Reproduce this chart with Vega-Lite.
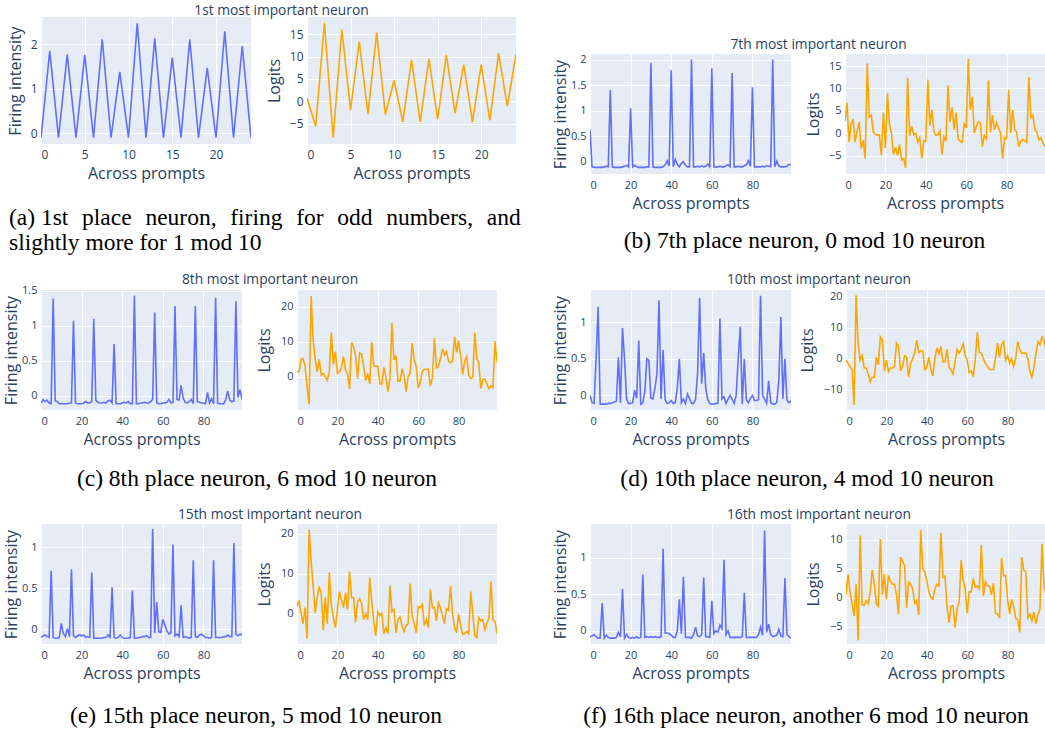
{
"$schema": "https://vega.github.io/schema/vega-lite/v6.json",
"background": "white",
"padding": {"left": 3, "top": 4, "right": 0, "bottom": 0},
"config": {
  "view": {"fill": "#E5ECF6", "stroke": null},
  "numberFormat": "~f",
  "axis": {"domain": false, "ticks": false, "tickSize": 0, "gridColor": "#ffffff", "gridWidth": 1, "gridOpacity": 1,
    "labelFont": "Open Sans", "labelFontSize": 11, "labelColor": "#2a3f5f", "labelPadding": 4,
    "titleFont": "Open Sans", "titleFontSize": 16, "titleFontWeight": "normal", "titleColor": "#2a3f5f"},
  "axisX": {"minExtent": 17, "maxExtent": 17, "titlePadding": 4, "labelPadding": 5},
  "axisY": {"minExtent": 22, "maxExtent": 22, "titlePadding": 0},
  "title": {"font": "Open Sans", "fontSize": 13.8, "fontWeight": "normal", "color": "#2a3f5f", "anchor": "middle"}
},
"datasets": {
"A": [{"x":0,"f":-0.1,"l":0.7},{"x":1,"f":1.85,"l":-5.6},{"x":2,"f":-0.1,"l":17.6},{"x":3,"f":1.77,"l":-8.2},{"x":4,"f":-0.1,"l":16.1},{"x":5,"f":1.76,"l":-2.0},{"x":6,"f":-0.1,"l":13.4},{"x":7,"f":2.11,"l":-2.9},{"x":8,"f":-0.1,"l":15.4},{"x":9,"f":1.38,"l":-3.0},{"x":10,"f":-0.1,"l":4.7},{"x":11,"f":2.47,"l":-4.7},{"x":12,"f":-0.1,"l":9.3},{"x":13,"f":2.13,"l":-4.7},{"x":14,"f":-0.1,"l":9.5},{"x":15,"f":1.70,"l":-4.1},{"x":16,"f":-0.1,"l":10.4},{"x":17,"f":2.11,"l":-2.7},{"x":18,"f":-0.1,"l":8.2},{"x":19,"f":1.47,"l":-4.7},{"x":20,"f":-0.1,"l":8.2},{"x":21,"f":2.29,"l":-4.3},{"x":22,"f":-0.1,"l":10.8},{"x":23,"f":1.96,"l":-1.1},{"x":24,"f":-0.1,"l":10.5}],
"B": [{"x":0,"f":0.63,"l":2.7},{"x":1,"f":-0.1,"l":6.8},{"x":2,"f":-0.11,"l":-2.0},{"x":3,"f":-0.11,"l":2.0},{"x":4,"f":-0.11,"l":3.2},{"x":5,"f":-0.11,"l":-2.0},{"x":6,"f":-0.11,"l":0.5},{"x":7,"f":-0.1,"l":2.5},{"x":8,"f":-0.09,"l":-3.4},{"x":9,"f":-0.1,"l":-1.6},{"x":10,"f":1.40,"l":-5.7},{"x":11,"f":-0.1,"l":15.6},{"x":12,"f":-0.11,"l":3.6},{"x":13,"f":-0.11,"l":4.0},{"x":14,"f":-0.11,"l":0.3},{"x":15,"f":-0.11,"l":-0.2},{"x":16,"f":-0.1,"l":-0.4},{"x":17,"f":-0.09,"l":-0.3},{"x":18,"f":-0.07,"l":-4.9},{"x":19,"f":-0.1,"l":4.6},{"x":20,"f":1.05,"l":-3.3},{"x":21,"f":-0.1,"l":8.9},{"x":22,"f":-0.07,"l":2.0},{"x":23,"f":-0.1,"l":0.0},{"x":24,"f":-0.11,"l":-4.8},{"x":25,"f":-0.11,"l":-3.1},{"x":26,"f":-0.11,"l":-5.0},{"x":27,"f":-0.11,"l":-2.5},{"x":28,"f":-0.1,"l":-6.0},{"x":29,"f":-0.1,"l":-5.6},{"x":30,"f":1.94,"l":-7.7},{"x":31,"f":-0.1,"l":12.4},{"x":32,"f":-0.11,"l":-0.5},{"x":33,"f":-0.11,"l":1.6},{"x":34,"f":-0.11,"l":-0.3},{"x":35,"f":-0.11,"l":0.0},{"x":36,"f":-0.1,"l":-2.0},{"x":37,"f":-0.06,"l":-1.0},{"x":38,"f":0.02,"l":-5.6},{"x":39,"f":-0.08,"l":-1.6},{"x":40,"f":1.79,"l":-1.8},{"x":41,"f":-0.1,"l":12.0},{"x":42,"f":0.05,"l":1.7},{"x":43,"f":-0.05,"l":5.3},{"x":44,"f":-0.1,"l":0.4},{"x":45,"f":-0.03,"l":-0.5},{"x":46,"f":0.0,"l":-0.3},{"x":47,"f":-0.07,"l":0.5},{"x":48,"f":-0.1,"l":-4.8},{"x":49,"f":-0.1,"l":-0.8},{"x":50,"f":2.0,"l":-1.8},{"x":51,"f":-0.1,"l":10.7},{"x":52,"f":-0.1,"l":2.6},{"x":53,"f":-0.09,"l":5.8},{"x":54,"f":-0.1,"l":0.8},{"x":55,"f":-0.08,"l":4.6},{"x":56,"f":-0.1,"l":-1.2},{"x":57,"f":-0.09,"l":-1.8},{"x":58,"f":-0.05,"l":-2.0},{"x":59,"f":-0.1,"l":2.1},{"x":60,"f":1.83,"l":1.2},{"x":61,"f":-0.1,"l":16.6},{"x":62,"f":-0.1,"l":5.3},{"x":63,"f":-0.1,"l":8.1},{"x":64,"f":-0.09,"l":0.0},{"x":65,"f":-0.1,"l":1.5},{"x":66,"f":-0.1,"l":2.6},{"x":67,"f":-0.08,"l":2.3},{"x":68,"f":-0.06,"l":-3.0},{"x":69,"f":-0.1,"l":-0.5},{"x":70,"f":1.74,"l":-1.2},{"x":71,"f":-0.1,"l":11.8},{"x":72,"f":-0.1,"l":0.2},{"x":73,"f":-0.09,"l":4.0},{"x":74,"f":-0.1,"l":0.8},{"x":75,"f":-0.1,"l":2.4},{"x":76,"f":-0.08,"l":1.2},{"x":77,"f":-0.06,"l":0.0},{"x":78,"f":0.02,"l":-5.6},{"x":79,"f":-0.09,"l":-1.0},{"x":80,"f":1.46,"l":-1.2},{"x":81,"f":-0.1,"l":9.7},{"x":82,"f":-0.1,"l":0.0},{"x":83,"f":-0.1,"l":5.2},{"x":84,"f":-0.1,"l":1.0},{"x":85,"f":-0.09,"l":0.2},{"x":86,"f":-0.1,"l":-3.0},{"x":87,"f":-0.08,"l":-1.8},{"x":88,"f":-0.09,"l":-1.4},{"x":89,"f":-0.1,"l":-1.7},{"x":90,"f":2.0,"l":-2.0},{"x":91,"f":-0.1,"l":12.5},{"x":92,"f":0.01,"l":3.5},{"x":93,"f":-0.08,"l":4.0},{"x":94,"f":-0.1,"l":0.8},{"x":95,"f":-0.1,"l":0.2},{"x":96,"f":-0.1,"l":-1.5},{"x":97,"f":-0.09,"l":-1.0},{"x":98,"f":-0.05,"l":-2.2},{"x":99,"f":-0.06,"l":-3.0}],
"C": [{"x":0,"f":-0.1,"l":1.5},{"x":1,"f":-0.05,"l":1.5},{"x":2,"f":-0.08,"l":5.0},{"x":3,"f":-0.06,"l":5.2},{"x":4,"f":-0.1,"l":3.0},{"x":5,"f":-0.11,"l":-3.0},{"x":6,"f":1.39,"l":-7.8},{"x":7,"f":-0.07,"l":23.0},{"x":8,"f":-0.08,"l":10.5},{"x":9,"f":-0.11,"l":5.0},{"x":10,"f":-0.11,"l":1.5},{"x":11,"f":-0.11,"l":5.0},{"x":12,"f":-0.11,"l":0.5},{"x":13,"f":-0.11,"l":1.0},{"x":14,"f":-0.1,"l":0.0},{"x":15,"f":-0.1,"l":-1.0},{"x":16,"f":1.07,"l":1.5},{"x":17,"f":-0.1,"l":12.6},{"x":18,"f":-0.11,"l":3.6},{"x":19,"f":-0.11,"l":7.2},{"x":20,"f":-0.11,"l":1.0},{"x":21,"f":-0.1,"l":1.5},{"x":22,"f":-0.08,"l":2.5},{"x":23,"f":-0.1,"l":5.8},{"x":24,"f":-0.1,"l":2.0},{"x":25,"f":-0.08,"l":1.0},{"x":26,"f":1.10,"l":-3.4},{"x":27,"f":-0.06,"l":9.8},{"x":28,"f":-0.09,"l":8.5},{"x":29,"f":-0.1,"l":6.0},{"x":30,"f":-0.1,"l":-0.5},{"x":31,"f":-0.09,"l":6.8},{"x":32,"f":-0.1,"l":6.5},{"x":33,"f":-0.07,"l":3.0},{"x":34,"f":-0.06,"l":-1.0},{"x":35,"f":-0.1,"l":1.0},{"x":36,"f":0.74,"l":-2.0},{"x":37,"f":-0.11,"l":9.9},{"x":38,"f":-0.11,"l":3.2},{"x":39,"f":-0.11,"l":3.0},{"x":40,"f":-0.1,"l":3.0},{"x":41,"f":-0.09,"l":-2.0},{"x":42,"f":-0.1,"l":-2.0},{"x":43,"f":-0.08,"l":2.7},{"x":44,"f":-0.11,"l":0.0},{"x":45,"f":-0.11,"l":-4.2},{"x":46,"f":1.43,"l":-0.5},{"x":47,"f":-0.11,"l":15.3},{"x":48,"f":-0.11,"l":4.8},{"x":49,"f":-0.1,"l":6.1},{"x":50,"f":-0.1,"l":-1.2},{"x":51,"f":-0.09,"l":-1.2},{"x":52,"f":-0.1,"l":2.3},{"x":53,"f":-0.1,"l":0.5},{"x":54,"f":-0.08,"l":-4.2},{"x":55,"f":-0.05,"l":0.0},{"x":56,"f":1.19,"l":1.0},{"x":57,"f":-0.1,"l":9.6},{"x":58,"f":-0.11,"l":5.0},{"x":59,"f":-0.11,"l":3.0},{"x":60,"f":-0.1,"l":-3.2},{"x":61,"f":-0.1,"l":-1.5},{"x":62,"f":-0.09,"l":1.5},{"x":63,"f":-0.05,"l":2.2},{"x":64,"f":-0.1,"l":2.2},{"x":65,"f":-0.09,"l":2.2},{"x":66,"f":1.28,"l":-2.5},{"x":67,"f":-0.05,"l":-0.5},{"x":68,"f":-0.06,"l":11.0},{"x":69,"f":0.15,"l":2.5},{"x":70,"f":-0.03,"l":3.0},{"x":71,"f":-0.09,"l":5.0},{"x":72,"f":-0.1,"l":8.0},{"x":73,"f":-0.08,"l":6.2},{"x":74,"f":-0.05,"l":7.2},{"x":75,"f":-0.11,"l":4.5},{"x":76,"f":1.28,"l":4.0},{"x":77,"f":-0.08,"l":4.5},{"x":78,"f":-0.09,"l":11.4},{"x":79,"f":-0.1,"l":7.0},{"x":80,"f":-0.1,"l":10.3},{"x":81,"f":-0.11,"l":6.0},{"x":82,"f":0.05,"l":0.7},{"x":83,"f":-0.1,"l":4.5},{"x":84,"f":-0.04,"l":5.8},{"x":85,"f":-0.11,"l":0.5},{"x":86,"f":1.40,"l":-0.5},{"x":87,"f":-0.1,"l":-0.2},{"x":88,"f":-0.11,"l":12.6},{"x":89,"f":-0.11,"l":5.3},{"x":90,"f":-0.11,"l":4.0},{"x":91,"f":-0.05,"l":-3.3},{"x":92,"f":0.07,"l":-0.8},{"x":93,"f":-0.06,"l":-0.6},{"x":94,"f":-0.08,"l":-2.0},{"x":95,"f":-0.07,"l":-3.4},{"x":96,"f":1.35,"l":-2.5},{"x":97,"f":-0.02,"l":-3.0},{"x":98,"f":0.09,"l":10.1},{"x":99,"f":-0.05,"l":4.2}],
"D": [{"x":0,"f":0.0,"l":-0.5},{"x":1,"f":-0.1,"l":-1.5},{"x":2,"f":-0.11,"l":-2.5},{"x":3,"f":0.5,"l":-3.5},{"x":4,"f":1.21,"l":-15.0},{"x":5,"f":-0.12,"l":20.5},{"x":6,"f":-0.12,"l":5.0},{"x":7,"f":-0.12,"l":-0.5},{"x":8,"f":-0.12,"l":1.0},{"x":9,"f":-0.11,"l":-3.0},{"x":10,"f":-0.11,"l":-3.0},{"x":11,"f":-0.1,"l":-5.0},{"x":12,"f":-0.09,"l":-7.5},{"x":13,"f":-0.08,"l":-6.0},{"x":14,"f":0.52,"l":-6.0},{"x":15,"f":-0.1,"l":0.5},{"x":16,"f":0.92,"l":-2.0},{"x":17,"f":0.5,"l":7.0},{"x":18,"f":-0.05,"l":6.0},{"x":19,"f":-0.11,"l":-4.0},{"x":20,"f":-0.11,"l":-0.5},{"x":21,"f":-0.1,"l":-4.2},{"x":22,"f":0.07,"l":-3.0},{"x":23,"f":-0.04,"l":-3.0},{"x":24,"f":0.75,"l":-2.5},{"x":25,"f":-0.12,"l":5.0},{"x":26,"f":-0.1,"l":4.0},{"x":27,"f":0.05,"l":-4.0},{"x":28,"f":0.5,"l":-2.5},{"x":29,"f":0.48,"l":1.0},{"x":30,"f":-0.04,"l":0.5},{"x":31,"f":-0.05,"l":-6.0},{"x":32,"f":0.1,"l":-1.5},{"x":33,"f":0.3,"l":0.0},{"x":34,"f":1.3,"l":2.0},{"x":35,"f":-0.05,"l":6.0},{"x":36,"f":0.62,"l":2.0},{"x":37,"f":-0.06,"l":2.5},{"x":38,"f":-0.11,"l":2.5},{"x":39,"f":-0.1,"l":-3.5},{"x":40,"f":-0.07,"l":-3.0},{"x":41,"f":-0.11,"l":0.5},{"x":42,"f":-0.1,"l":-3.5},{"x":43,"f":0.1,"l":-5.5},{"x":44,"f":0.5,"l":0.0},{"x":45,"f":-0.1,"l":3.5},{"x":46,"f":-0.05,"l":1.5},{"x":47,"f":-0.11,"l":4.0},{"x":48,"f":0.02,"l":-1.0},{"x":49,"f":-0.04,"l":-1.0},{"x":50,"f":-0.11,"l":3.0},{"x":51,"f":-0.11,"l":-3.0},{"x":52,"f":-0.05,"l":-3.5},{"x":53,"f":0.3,"l":-5.0},{"x":54,"f":1.33,"l":-1.0},{"x":55,"f":0.16,"l":3.0},{"x":56,"f":0.58,"l":1.8},{"x":57,"f":0.1,"l":3.0},{"x":58,"f":-0.06,"l":4.8},{"x":59,"f":-0.11,"l":1.0},{"x":60,"f":-0.12,"l":-0.5},{"x":61,"f":-0.12,"l":-4.5},{"x":62,"f":-0.11,"l":-4.0},{"x":63,"f":-0.11,"l":-5.8},{"x":64,"f":1.05,"l":0.0},{"x":65,"f":-0.05,"l":8.5},{"x":66,"f":-0.02,"l":2.0},{"x":67,"f":-0.11,"l":1.8},{"x":68,"f":-0.05,"l":0.0},{"x":69,"f":0.0,"l":-1.5},{"x":70,"f":-0.05,"l":-2.5},{"x":71,"f":-0.11,"l":-3.5},{"x":72,"f":0.0,"l":-3.5},{"x":73,"f":0.5,"l":-3.5},{"x":74,"f":0.94,"l":0.0},{"x":75,"f":-0.12,"l":5.0},{"x":76,"f":0.5,"l":0.5},{"x":77,"f":-0.06,"l":4.5},{"x":78,"f":-0.1,"l":5.5},{"x":79,"f":-0.04,"l":-0.5},{"x":80,"f":0.0,"l":1.0},{"x":81,"f":-0.07,"l":-1.5},{"x":82,"f":-0.07,"l":0.0},{"x":83,"f":-0.06,"l":-2.5},{"x":84,"f":1.36,"l":0.0},{"x":85,"f":0.0,"l":5.5},{"x":86,"f":-0.05,"l":3.0},{"x":87,"f":-0.11,"l":1.8},{"x":88,"f":0.2,"l":1.8},{"x":89,"f":-0.1,"l":1.8},{"x":90,"f":-0.12,"l":0.0},{"x":91,"f":-0.12,"l":-4.0},{"x":92,"f":-0.1,"l":-6.0},{"x":93,"f":0.2,"l":-3.0},{"x":94,"f":1.07,"l":1.5},{"x":95,"f":-0.05,"l":5.5},{"x":96,"f":0.5,"l":4.5},{"x":97,"f":-0.06,"l":7.0},{"x":98,"f":-0.1,"l":6.0},{"x":99,"f":-0.08,"l":3.0}],
"E": [{"x":0,"f":-0.1,"l":1.7},{"x":1,"f":-0.08,"l":3.3},{"x":2,"f":-0.07,"l":0.0},{"x":3,"f":-0.09,"l":-2.5},{"x":4,"f":-0.1,"l":1.5},{"x":5,"f":0.71,"l":-6.2},{"x":6,"f":-0.1,"l":21.0},{"x":7,"f":-0.11,"l":13.0},{"x":8,"f":-0.11,"l":7.0},{"x":9,"f":-0.1,"l":0.2},{"x":10,"f":0.07,"l":4.0},{"x":11,"f":-0.05,"l":6.8},{"x":12,"f":-0.09,"l":5.0},{"x":13,"f":0.01,"l":-4.2},{"x":14,"f":-0.09,"l":4.0},{"x":15,"f":0.73,"l":-2.5},{"x":16,"f":-0.08,"l":10.3},{"x":17,"f":-0.1,"l":2.0},{"x":18,"f":-0.08,"l":-1.0},{"x":19,"f":-0.07,"l":-3.5},{"x":20,"f":-0.08,"l":1.0},{"x":21,"f":-0.07,"l":5.5},{"x":22,"f":-0.1,"l":3.5},{"x":23,"f":-0.09,"l":1.5},{"x":24,"f":-0.1,"l":5.2},{"x":25,"f":0.69,"l":1.0},{"x":26,"f":-0.11,"l":10.6},{"x":27,"f":-0.11,"l":4.0},{"x":28,"f":-0.11,"l":4.0},{"x":29,"f":-0.11,"l":-2.2},{"x":30,"f":-0.11,"l":3.0},{"x":31,"f":-0.1,"l":3.7},{"x":32,"f":-0.1,"l":2.5},{"x":33,"f":-0.07,"l":-1.5},{"x":34,"f":-0.1,"l":0.0},{"x":35,"f":0.51,"l":-1.5},{"x":36,"f":-0.1,"l":9.0},{"x":37,"f":-0.11,"l":3.0},{"x":38,"f":-0.1,"l":-2.0},{"x":39,"f":-0.07,"l":-5.5},{"x":40,"f":-0.1,"l":0.5},{"x":41,"f":-0.11,"l":-0.5},{"x":42,"f":-0.11,"l":0.0},{"x":43,"f":-0.11,"l":-5.0},{"x":44,"f":-0.1,"l":-3.5},{"x":45,"f":0.47,"l":-5.0},{"x":46,"f":-0.11,"l":7.0},{"x":47,"f":-0.11,"l":0.5},{"x":48,"f":-0.1,"l":1.0},{"x":49,"f":-0.1,"l":-4.8},{"x":50,"f":-0.09,"l":-1.5},{"x":51,"f":-0.09,"l":-0.8},{"x":52,"f":-0.08,"l":-3.0},{"x":53,"f":-0.1,"l":-4.5},{"x":54,"f":-0.1,"l":-3.0},{"x":55,"f":1.22,"l":-2.5},{"x":56,"f":-0.05,"l":7.5},{"x":57,"f":0.33,"l":-0.5},{"x":58,"f":-0.03,"l":-2.5},{"x":59,"f":-0.04,"l":-4.8},{"x":60,"f":0.12,"l":1.8},{"x":61,"f":0.05,"l":1.5},{"x":62,"f":-0.02,"l":2.3},{"x":63,"f":-0.06,"l":-3.0},{"x":64,"f":-0.04,"l":-1.5},{"x":65,"f":1.03,"l":-3.5},{"x":66,"f":-0.08,"l":6.0},{"x":67,"f":-0.06,"l":1.5},{"x":68,"f":-0.09,"l":1.5},{"x":69,"f":0.29,"l":-1.8},{"x":70,"f":-0.1,"l":2.7},{"x":71,"f":-0.09,"l":1.5},{"x":72,"f":-0.1,"l":-0.5},{"x":73,"f":-0.11,"l":-2.5},{"x":74,"f":-0.1,"l":1.2},{"x":75,"f":0.84,"l":0.8},{"x":76,"f":-0.09,"l":6.8},{"x":77,"f":-0.1,"l":0.0},{"x":78,"f":-0.07,"l":-3.5},{"x":79,"f":-0.06,"l":-4.8},{"x":80,"f":-0.08,"l":0.0},{"x":81,"f":-0.1,"l":-3.0},{"x":82,"f":-0.1,"l":-5.2},{"x":83,"f":-0.11,"l":-5.0},{"x":84,"f":-0.1,"l":-4.5},{"x":85,"f":0.84,"l":-5.0},{"x":86,"f":-0.1,"l":5.5},{"x":87,"f":-0.1,"l":0.0},{"x":88,"f":-0.1,"l":-5.5},{"x":89,"f":-0.1,"l":-6.0},{"x":90,"f":-0.09,"l":-1.0},{"x":91,"f":-0.09,"l":-1.8},{"x":92,"f":-0.07,"l":-1.5},{"x":93,"f":-0.09,"l":-4.0},{"x":94,"f":-0.09,"l":-2.5},{"x":95,"f":1.05,"l":-1.0},{"x":96,"f":-0.06,"l":8.0},{"x":97,"f":-0.08,"l":-1.5},{"x":98,"f":-0.06,"l":-2.0},{"x":99,"f":-0.07,"l":-5.0}],
"F": [{"x":0,"f":-0.09,"l":0.5},{"x":1,"f":-0.07,"l":4.0},{"x":2,"f":-0.05,"l":1.0},{"x":3,"f":-0.08,"l":-1.0},{"x":4,"f":-0.1,"l":-3.2},{"x":5,"f":-0.1,"l":2.3},{"x":6,"f":0.38,"l":-7.4},{"x":7,"f":-0.1,"l":10.7},{"x":8,"f":-0.06,"l":-1.3},{"x":9,"f":-0.09,"l":-1.3},{"x":10,"f":-0.1,"l":-0.5},{"x":11,"f":-0.1,"l":-1.0},{"x":12,"f":-0.1,"l":1.0},{"x":13,"f":-0.09,"l":4.8},{"x":14,"f":-0.02,"l":2.5},{"x":15,"f":-0.08,"l":-1.0},{"x":16,"f":0.57,"l":-1.5},{"x":17,"f":-0.1,"l":10.1},{"x":18,"f":-0.05,"l":0.5},{"x":19,"f":-0.09,"l":4.0},{"x":20,"f":-0.1,"l":-0.3},{"x":21,"f":-0.09,"l":3.8},{"x":22,"f":-0.1,"l":2.8},{"x":23,"f":-0.08,"l":2.3},{"x":24,"f":-0.1,"l":2.3},{"x":25,"f":-0.09,"l":0.5},{"x":26,"f":0.77,"l":-2.8},{"x":27,"f":-0.09,"l":7.0},{"x":28,"f":-0.08,"l":6.3},{"x":29,"f":-0.09,"l":5.5},{"x":30,"f":-0.08,"l":-1.8},{"x":31,"f":-0.09,"l":2.7},{"x":32,"f":-0.08,"l":2.3},{"x":33,"f":-0.09,"l":1.5},{"x":34,"f":-0.09,"l":-1.0},{"x":35,"f":-0.08,"l":-0.5},{"x":36,"f":1.12,"l":-3.0},{"x":37,"f":-0.03,"l":11.6},{"x":38,"f":-0.03,"l":5.0},{"x":39,"f":-0.04,"l":4.5},{"x":40,"f":-0.06,"l":3.0},{"x":41,"f":-0.09,"l":1.0},{"x":42,"f":-0.09,"l":0.0},{"x":43,"f":0.0,"l":-0.3},{"x":44,"f":0.43,"l":1.5},{"x":45,"f":-0.04,"l":2.3},{"x":46,"f":0.74,"l":2.0},{"x":47,"f":-0.09,"l":11.2},{"x":48,"f":-0.09,"l":3.5},{"x":49,"f":-0.09,"l":3.7},{"x":50,"f":-0.1,"l":-1.5},{"x":51,"f":-0.05,"l":-4.3},{"x":52,"f":0.05,"l":-1.5},{"x":53,"f":-0.07,"l":-1.4},{"x":54,"f":-0.08,"l":-5.2},{"x":55,"f":-0.05,"l":-1.8},{"x":56,"f":0.73,"l":-0.8},{"x":57,"f":-0.08,"l":6.5},{"x":58,"f":-0.08,"l":3.0},{"x":59,"f":-0.09,"l":1.5},{"x":60,"f":0.41,"l":-2.7},{"x":61,"f":-0.04,"l":1.0},{"x":62,"f":0.0,"l":1.0},{"x":63,"f":-0.02,"l":3.3},{"x":64,"f":0.08,"l":1.8},{"x":65,"f":0.03,"l":2.0},{"x":66,"f":0.97,"l":1.5},{"x":67,"f":-0.05,"l":9.1},{"x":68,"f":0.0,"l":0.3},{"x":69,"f":-0.09,"l":2.8},{"x":70,"f":-0.09,"l":2.0},{"x":71,"f":-0.09,"l":2.0},{"x":72,"f":-0.09,"l":0.5},{"x":73,"f":-0.09,"l":2.5},{"x":74,"f":-0.09,"l":-2.7},{"x":75,"f":-0.08,"l":-2.8},{"x":76,"f":0.52,"l":-3.5},{"x":77,"f":-0.09,"l":6.8},{"x":78,"f":-0.09,"l":3.8},{"x":79,"f":-0.09,"l":3.8},{"x":80,"f":-0.09,"l":-0.3},{"x":81,"f":-0.09,"l":-2.8},{"x":82,"f":-0.09,"l":-0.3},{"x":83,"f":-0.05,"l":-1.5},{"x":84,"f":0.05,"l":-3.6},{"x":85,"f":-0.06,"l":-3.8},{"x":86,"f":1.37,"l":-6.0},{"x":87,"f":-0.02,"l":7.0},{"x":88,"f":0.09,"l":4.8},{"x":89,"f":-0.05,"l":4.5},{"x":90,"f":-0.08,"l":-3.5},{"x":91,"f":-0.07,"l":-2.8},{"x":92,"f":-0.06,"l":-4.0},{"x":93,"f":0.02,"l":-2.5},{"x":94,"f":-0.07,"l":-4.5},{"x":95,"f":-0.08,"l":-3.0},{"x":96,"f":0.72,"l":-2.0},{"x":97,"f":-0.05,"l":9.3},{"x":98,"f":-0.08,"l":2.0},{"x":99,"f":-0.1,"l":0.5}]
},
"spacing": 17,
"vconcat": [
{"spacing": 31, "hconcat": [
  {"title": {"text": ["(a) 1st\u00a0\u200a place\u00a0\u200a neuron,\u00a0\u200a firing\u00a0\u200a for\u00a0\u200a odd\u00a0\u200a numbers,\u00a0\u200a and", "slightly more for 1 mod 10"], "orient": "bottom", "anchor": "start", "font": "Liberation Serif", "fontSize": 23.5, "fontWeight": "normal", "color": "#000000", "offset": 25, "lineHeight": 25, "dx": 2},
   "vconcat": [{"title": {"text": "1st most important neuron", "dx": 20, "offset": -1}, "bounds": "flush", "spacing": 56, "hconcat": [
    {"data": {"name": "A"}, "width": 210, "height": 127, "mark": {"type": "line", "color": "#636efa", "strokeWidth": 1.6, "clip": true},
     "encoding": {"x": {"field": "x", "type": "quantitative", "scale": {"domain": [0, 24], "nice": false, "zero": false}, "axis": {"values": [0, 5, 10, 15, 20], "title": "Across prompts", "labelFontSize": 12}},
      "y": {"field": "f", "type": "quantitative", "scale": {"domain": [-0.24, 2.61], "nice": false, "zero": false}, "axis": {"values": [0, 1, 2], "title": "Firing intensity", "labelFontSize": 12, "minExtent": 18, "maxExtent": 18}}}},
    {"data": {"name": "A"}, "width": 209, "height": 127, "mark": {"type": "line", "color": "orange", "strokeWidth": 1.6, "clip": true},
     "encoding": {"x": {"field": "x", "type": "quantitative", "scale": {"domain": [0, 24], "nice": false, "zero": false}, "axis": {"values": [0, 5, 10, 15, 20], "title": "Across prompts", "labelFontSize": 12}},
      "y": {"field": "l", "type": "quantitative", "scale": {"domain": [-9.6, 18.9], "nice": false, "zero": false}, "axis": {"values": [-5, 0, 5, 10, 15], "title": "Logits", "labelFontSize": 12, "minExtent": 25, "maxExtent": 25}}}}
   ]}]},
  {"title": {"text": "(b) 7th place neuron, 0 mod 10 neuron", "orient": "bottom", "anchor": "middle", "font": "Liberation Serif", "fontSize": 23.5, "fontWeight": "normal", "color": "#000000", "offset": 18, "dx": 6},
   "spacing": 0,
   "vconcat": [
    {"width": 10, "height": 20, "view": {"fill": "transparent", "stroke": null}, "data": {"values": [{"s": ""}]}, "mark": {"type": "text"}, "encoding": {"text": {"field": "s"}}},
    {"title": {"text": "7th most important neuron", "dx": 20, "offset": 2}, "bounds": "flush", "spacing": 54, "hconcat": [
    {"data": {"name": "B"}, "width": 201, "height": 120, "mark": {"type": "line", "color": "#636efa", "strokeWidth": 1.6, "clip": true},
     "encoding": {"x": {"field": "x", "type": "quantitative", "scale": {"domain": [0, 99], "nice": false, "zero": false}, "axis": {"values": [0, 20, 40, 60, 80], "title": "Across prompts"}},
      "y": {"field": "f", "type": "quantitative", "scale": {"domain": [-0.24, 2.11], "nice": false, "zero": false}, "axis": {"values": [0, 0.5, 1, 1.5, 2], "title": "Firing intensity"}}}},
    {"data": {"name": "B"}, "width": 200, "height": 120, "mark": {"type": "line", "color": "orange", "strokeWidth": 1.6, "clip": true},
     "encoding": {"x": {"field": "x", "type": "quantitative", "scale": {"domain": [0, 99], "nice": false, "zero": false}, "axis": {"values": [0, 20, 40, 60, 80], "title": "Across prompts"}},
      "y": {"field": "l", "type": "quantitative", "scale": {"domain": [-9.1, 17.7], "nice": false, "zero": false}, "axis": {"values": [-5, 0, 5, 10, 15], "title": "Logits", "minExtent": 24, "maxExtent": 24}}}}
   ]}]}
]},
{"spacing": 55, "hconcat": [
  {"title": {"text": "(c) 8th place neuron, 6 mod 10 neuron", "orient": "bottom", "anchor": "middle", "font": "Liberation Serif", "fontSize": 23.5, "fontWeight": "normal", "color": "#000000", "offset": 20, "dx": 7},
   "vconcat": [{"title": {"text": "8th most important neuron", "dx": 20, "offset": -2}, "bounds": "flush", "spacing": 55, "hconcat": [
    {"data": {"name": "C"}, "width": 201, "height": 120, "mark": {"type": "line", "color": "#636efa", "strokeWidth": 1.6, "clip": true},
     "encoding": {"x": {"field": "x", "type": "quantitative", "scale": {"domain": [0, 99], "nice": false, "zero": false}, "axis": {"values": [0, 20, 40, 60, 80], "title": "Across prompts"}},
      "y": {"field": "f", "type": "quantitative", "scale": {"domain": [-0.2, 1.51], "nice": false, "zero": false}, "axis": {"values": [0, 0.5, 1, 1.5], "title": "Firing intensity"}}}},
    {"data": {"name": "C"}, "width": 200, "height": 120, "mark": {"type": "line", "color": "orange", "strokeWidth": 1.6, "clip": true},
     "encoding": {"x": {"field": "x", "type": "quantitative", "scale": {"domain": [0, 99], "nice": false, "zero": false}, "axis": {"values": [0, 20, 40, 60, 80], "title": "Across prompts"}},
      "y": {"field": "l", "type": "quantitative", "scale": {"domain": [-9.4, 24.7], "nice": false, "zero": false}, "axis": {"values": [0, 10, 20], "title": "Logits", "minExtent": 25, "maxExtent": 25}}}}
   ]}]},
  {"title": {"text": "(d) 10th place neuron, 4 mod 10 neuron", "orient": "bottom", "anchor": "middle", "font": "Liberation Serif", "fontSize": 23.5, "fontWeight": "normal", "color": "#000000", "offset": 20, "dx": 8},
   "vconcat": [{"title": {"text": "10th most important neuron", "dx": 20, "offset": 3}, "bounds": "flush", "spacing": 55, "hconcat": [
    {"data": {"name": "D"}, "width": 201, "height": 120, "mark": {"type": "line", "color": "#636efa", "strokeWidth": 1.6, "clip": true},
     "encoding": {"x": {"field": "x", "type": "quantitative", "scale": {"domain": [0, 99], "nice": false, "zero": false}, "axis": {"values": [0, 20, 40, 60, 80], "title": "Across prompts"}},
      "y": {"field": "f", "type": "quantitative", "scale": {"domain": [-0.2, 1.44], "nice": false, "zero": false}, "axis": {"values": [0, 0.5, 1], "title": "Firing intensity"}}}},
    {"data": {"name": "D"}, "width": 200, "height": 120, "mark": {"type": "line", "color": "orange", "strokeWidth": 1.6, "clip": true},
     "encoding": {"x": {"field": "x", "type": "quantitative", "scale": {"domain": [0, 99], "nice": false, "zero": false}, "axis": {"values": [0, 20, 40, 60, 80], "title": "Across prompts"}},
      "y": {"field": "l", "type": "quantitative", "scale": {"domain": [-16.6, 22.2], "nice": false, "zero": false}, "axis": {"values": [-10, 0, 10, 20], "title": "Logits", "minExtent": 31, "maxExtent": 31}}}}
   ]}]}
]},
{"spacing": 55, "hconcat": [
  {"title": {"text": "(e) 15th place neuron, 5 mod 10 neuron", "orient": "bottom", "anchor": "middle", "font": "Liberation Serif", "fontSize": 23.5, "fontWeight": "normal", "color": "#000000", "offset": 23, "dx": 6},
   "vconcat": [{"title": {"text": "15th most important neuron", "dx": 20, "offset": 2}, "bounds": "flush", "spacing": 55, "hconcat": [
    {"data": {"name": "E"}, "width": 201, "height": 120, "mark": {"type": "line", "color": "#636efa", "strokeWidth": 1.6, "clip": true},
     "encoding": {"x": {"field": "x", "type": "quantitative", "scale": {"domain": [0, 99], "nice": false, "zero": false}, "axis": {"values": [0, 20, 40, 60, 80], "title": "Across prompts"}},
      "y": {"field": "f", "type": "quantitative", "scale": {"domain": [-0.18, 1.28], "nice": false, "zero": false}, "axis": {"values": [0, 0.5, 1], "title": "Firing intensity"}}}},
    {"data": {"name": "E"}, "width": 200, "height": 120, "mark": {"type": "line", "color": "orange", "strokeWidth": 1.6, "clip": true},
     "encoding": {"x": {"field": "x", "type": "quantitative", "scale": {"domain": [0, 99], "nice": false, "zero": false}, "axis": {"values": [0, 20, 40, 60, 80], "title": "Across prompts"}},
      "y": {"field": "l", "type": "quantitative", "scale": {"domain": [-7.6, 22.4], "nice": false, "zero": false}, "axis": {"values": [0, 10, 20], "title": "Logits", "minExtent": 25, "maxExtent": 25}}}}
   ]}]},
  {"title": {"text": "(f) 16th place neuron, another 6 mod 10 neuron", "orient": "bottom", "anchor": "middle", "font": "Liberation Serif", "fontSize": 23.5, "fontWeight": "normal", "color": "#000000", "offset": 23, "dx": 7},
   "vconcat": [{"title": {"text": "16th most important neuron", "dx": 20, "offset": 2}, "bounds": "flush", "spacing": 55, "hconcat": [
    {"data": {"name": "F"}, "width": 201, "height": 120, "mark": {"type": "line", "color": "#636efa", "strokeWidth": 1.6, "clip": true},
     "encoding": {"x": {"field": "x", "type": "quantitative", "scale": {"domain": [0, 99], "nice": false, "zero": false}, "axis": {"values": [0, 20, 40, 60, 80], "title": "Across prompts"}},
      "y": {"field": "f", "type": "quantitative", "scale": {"domain": [-0.18, 1.46], "nice": false, "zero": false}, "axis": {"values": [0, 0.5, 1], "title": "Firing intensity"}}}},
    {"data": {"name": "F"}, "width": 200, "height": 120, "mark": {"type": "line", "color": "orange", "strokeWidth": 1.6, "clip": true},
     "encoding": {"x": {"field": "x", "type": "quantitative", "scale": {"domain": [0, 99], "nice": false, "zero": false}, "axis": {"values": [0, 20, 40, 60, 80], "title": "Across prompts"}},
      "y": {"field": "l", "type": "quantitative", "scale": {"domain": [-8.0, 12.7], "nice": false, "zero": false}, "axis": {"values": [-5, 0, 5, 10], "title": "Logits", "minExtent": 25, "maxExtent": 25}}}}
   ]}]}
]}
]
}
